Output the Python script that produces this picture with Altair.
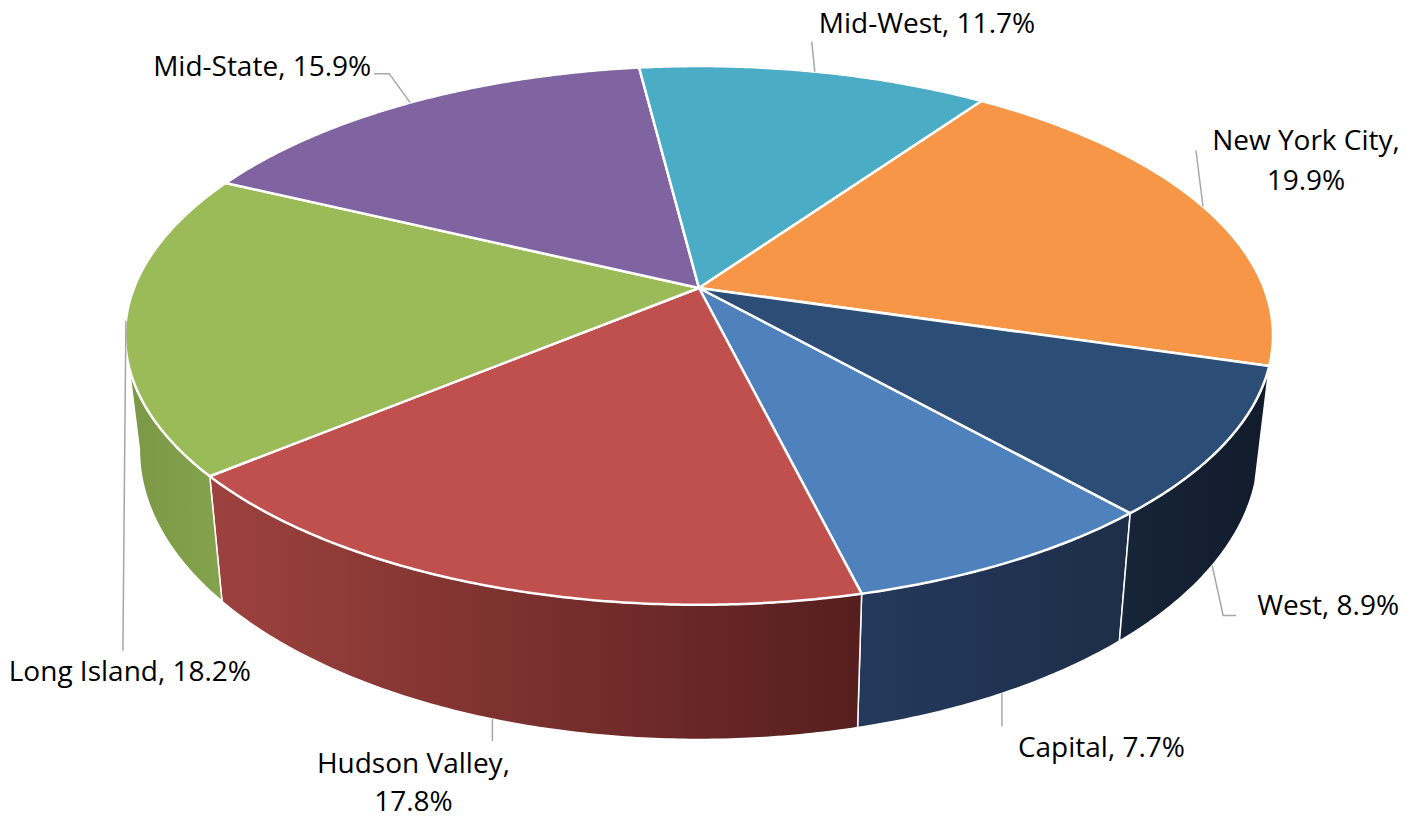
import numpy as np
import pandas as pd
import altair as alt

# ---------------- data ----------------
regions = ["Capital", "Hudson Valley", "Long Island", "Mid-State",
           "Mid-West", "New York City", "West"]
shares = [7.7, 17.8, 18.2, 15.9, 11.7, 19.9, 8.9]
label_lines = [["Capital, 7.7%"], ["Hudson Valley,", "17.8%"],
               ["Long Island, 18.2%"], ["Mid-State, 15.9%"],
               ["Mid-West, 11.7%"], ["New York City,", "19.9%"],
               ["West, 8.9%"]]

# ---------------- styles / layout ----------------
top_colors = ["#4F81BD", "#C0504D", "#9BBB59", "#8064A2",
              "#4BACC6", "#F79646", "#2C4D75"]
wall_colors = {
    "Capital": ("#24395c", "#1d2e48"),
    "Hudson Valley": ("#9d423e", "#561e1e"),
    "Long Island": ("#7a9845", "#85a34e"),
    "West": ("#17253a", "#111b2b"),
    "New York City": ("#b96a30", "#9a5626"),
    "Mid-State": ("#5f4a7a", "#4e3d66"),
    "Mid-West": ("#3a8699", "#2f6e7e"),
}
CX, CY = 699.0, 288.0      # pie apex in page pixels
A, B, P = 565.0, 261.0, 0.176   # horizontal/vertical radius, perspective
H, K = 111.0, 0.975        # wall depth, bottom rim shrink
START = 138.5              # angle of first slice (deg, clockwise from top)
VIS = (105.0, 260.0)       # visible part of the side wall
FONT, FSIZE = "Open Sans", 28
W_PX, H_PX = 1404, 806

# label layout: leader elbows (relative to anchor) and text offsets
leader_off = {
    "Capital": [(0, 33)],
    "Hudson Valley": [(0, 22)],
    "Long Island": [(-3, 330)],
    "Mid-State": [(-21, -29), (-36, -29)],
    "Mid-West": [(-3, -30)],
    "New York City": [(-7, -56)],
    "West": [(11, 50), (24, 50)],
}
text_off = {
    "Capital": (16, [64], "left"),
    "Hudson Valley": (-79, [54, 92], "center"),
    "Long Island": (4, [360], "center"),
    "Mid-State": (-39, [-27], "right"),
    "Mid-West": (4, [-39], "left"),
    "New York City": (103, [-57, -17], "center"),
    "West": (45, [50], "left"),
}


def top_pt(th):
    t = np.radians(th)
    den = 1 + P * np.cos(t)
    return CX + A * np.sin(t) / den, CY - B * np.cos(t) / den


def bot_pt(th):
    x, y = top_pt(th)
    t = np.radians(th)
    den = 1 + P * np.cos(t)
    return CX + K * (x - CX), y + H / den


total = sum(shares)
bounds = [START]
for s in shares:
    bounds.append(bounds[-1] + 360.0 * s / total)

top_rows, leader_rows, text_rows = [], [], []
wall_layers = []

xs = alt.X("x:Q", scale=alt.Scale(domain=[8, 8 + W_PX], nice=False, zero=False), axis=None)
ys = alt.Y("y:Q", scale=alt.Scale(domain=[8, 8 + H_PX], nice=False, zero=False, reverse=True),
           axis=None)

for k, name in enumerate(regions):
    a, b = bounds[k], bounds[k + 1]
    # top face
    pts = [(CX, CY)]
    for th in np.linspace(a, b, max(3, int((b - a) * 2))):
        pts.append(top_pt(th))
    pts.append((CX, CY))
    for i, (x, y) in enumerate(pts):
        top_rows.append({"region": name, "i": i, "x": x, "y": y})

    # side wall
    for shift in (0.0, 360.0):
        lo, hi = max(a, VIS[0] + shift), min(b, VIS[1] + shift)
        if hi - lo > 0.5:
            ths = np.linspace(lo, hi, max(3, int((hi - lo) * 2)))
            wp = [top_pt(t) for t in ths] + [bot_pt(t) for t in ths[::-1]]
            wp.append(wp[0])
            wdf = pd.DataFrame({"x": [p[0] for p in wp], "y": [p[1] for p in wp],
                                "i": range(len(wp))})
            c0, c1 = wall_colors[name]
            grad = alt.LinearGradient(
                gradient="linear", x1=0, x2=1, y1=0, y2=0,
                stops=[alt.GradientStop(color=c0, offset=0),
                       alt.GradientStop(color=c1, offset=1)])
            wall_layers.append(
                alt.Chart(wdf).mark_line(fill=grad, stroke="white", strokeWidth=1.5,
                                         strokeJoin="round")
                .encode(x=xs, y=ys, order="i:Q"))

    # label anchor
    mid = (a + b) / 2
    m = mid % 360
    ax, ay = bot_pt(mid) if VIS[0] < m < VIS[1] else top_pt(mid)
    lp = [(ax, ay)] + [(ax + dx, ay + dy) for dx, dy in leader_off[name]]
    for i, (x, y) in enumerate(lp):
        leader_rows.append({"region": name, "i": i, "x": x, "y": y})
    dx, dys, al = text_off[name]
    for line, dy in zip(label_lines[k], dys):
        text_rows.append({"region": name, "text": line, "x": ax + dx, "y": ay + dy,
                          "align": al})

top_df = pd.DataFrame(top_rows)
leader_df = pd.DataFrame(leader_rows)
text_df = pd.DataFrame(text_rows)

top = alt.Chart(top_df).mark_line(stroke="white", strokeWidth=2.5, strokeJoin="round").encode(
    x=xs, y=ys, order="i:Q",
    fill=alt.Fill("region:N", scale=alt.Scale(domain=regions, range=top_colors), legend=None),
)

leaders = alt.Chart(leader_df).mark_line(stroke="#a6a6a6", strokeWidth=1.5).encode(
    x=xs, y=ys, order="i:Q", detail="region:N")

text_layers = []
for al in ["left", "center", "right"]:
    sub = text_df[text_df["align"] == al]
    if len(sub):
        text_layers.append(
            alt.Chart(sub).mark_text(font=FONT, fontSize=FSIZE, align=al,
                                     baseline="alphabetic", color="#000000")
            .encode(x=xs, y=ys, text="text:N"))

chart = alt.layer(*wall_layers, top, leaders, *text_layers).properties(
    width=W_PX, height=H_PX, padding=0, autosize="none"
).configure_view(stroke=None)

chart.save("out.html", embed_options={"renderer": "svg", "actions": False})
